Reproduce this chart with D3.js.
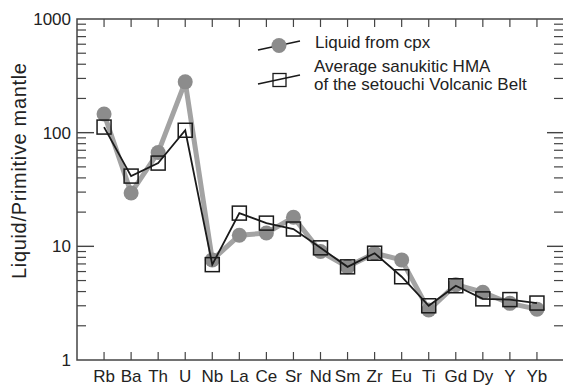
<!DOCTYPE html>
<html>
<head>
<meta charset="utf-8">
<script src="https://cdn.jsdelivr.net/npm/d3@7/dist/d3.min.js"></script>
<style>
html,body{margin:0;padding:0;background:#fff;}
svg{display:block;font-family:"Liberation Sans",Arial,sans-serif;}
</style>
</head>
<body>
<svg id="chart" width="563" height="387"></svg>
<script>
const categories = ["Rb","Ba","Th","U","Nb","La","Ce","Sr","Nd","Sm","Zr","Eu","Ti","Gd","Dy","Y","Yb"];
const liquidFromCpx = [146, 29.5, 67, 280, 7.6, 12.5, 13.1, 18, 9.0, 6.6, 8.7, 7.6, 2.75, 4.6, 3.95, 3.15, 2.8];
const averageHMA = [112, 41.5, 54, 105, 6.9, 19.6, 16, 14.2, 9.7, 6.6, 8.7, 5.4, 3.0, 4.5, 3.45, 3.4, 3.17];
const yMajorTicks = [1, 10, 100, 1000];
const yTickLabels = ["1", "10", "100", "1000"];
const seriesNames = ["Liquid from cpx", "Average sanukitic HMA", "of the setouchi Volcanic Belt"];
const yAxisTitle = "Liquid/Primitive mantle";

const svg = d3.select("#chart");
const L = 77, T = 19, B = 360;
const x = d3.scaleLinear().domain([-1, categories.length]).range([L, 564]);
const R = 565.5;
const y = d3.scaleLog().domain([1, 1000]).range([B, T]);
const axisColor = "#444";

const minor = [];
for (let d = 1; d < 1000; d *= 10) for (let k = 2; k <= 9; k++) minor.push(d * k);

const g = svg.append("g");
g.selectAll(".lmin").data(minor).join("line")
  .attr("x1", L).attr("x2", L + 9).attr("y1", d => y(d)).attr("y2", d => y(d))
  .attr("stroke", axisColor).attr("stroke-width", 1.2);
g.selectAll(".lmaj").data([10, 100]).join("line")
  .attr("x1", L).attr("x2", L + 17).attr("y1", d => y(d)).attr("y2", d => y(d))
  .attr("stroke", axisColor).attr("stroke-width", 1.4);
g.selectAll(".rmin").data(minor).join("line")
  .attr("x1", 564).attr("x2", 554).attr("y1", d => y(d)).attr("y2", d => y(d))
  .attr("stroke", axisColor).attr("stroke-width", 1.2);
g.selectAll(".rmaj").data([10, 100]).join("line")
  .attr("x1", 564).attr("x2", 547).attr("y1", d => y(d)).attr("y2", d => y(d))
  .attr("stroke", axisColor).attr("stroke-width", 1.4);
g.selectAll(".bt").data(categories).join("line")
  .attr("x1", (d, i) => x(i)).attr("x2", (d, i) => x(i)).attr("y1", B).attr("y2", B - 8)
  .attr("stroke", axisColor).attr("stroke-width", 1.2);
g.selectAll(".tt").data(categories).join("line")
  .attr("x1", (d, i) => x(i)).attr("x2", (d, i) => x(i)).attr("y1", T).attr("y2", T + 8)
  .attr("stroke", axisColor).attr("stroke-width", 1.2);
g.append("rect").attr("x", L).attr("y", T).attr("width", R - L).attr("height", B - T)
  .attr("fill", "none").attr("stroke", axisColor).attr("stroke-width", 1.5);

g.selectAll(".yl").data(yMajorTicks).join("text")
  .attr("x", 71).attr("y", d => y(d)).attr("dy", "0.35em")
  .attr("text-anchor", "end").attr("font-size", 17).attr("fill", "#222")
  .text((d, i) => yTickLabels[i]);
g.selectAll(".xl").data(categories).join("text")
  .attr("x", (d, i) => x(i)).attr("y", 382)
  .attr("text-anchor", "middle").attr("font-size", 17).attr("fill", "#222")
  .text(d => d);
g.append("text").attr("transform", "translate(26,171) rotate(-90)")
  .attr("text-anchor", "middle").attr("font-size", 20).attr("fill", "#222")
  .attr("textLength", 216).attr("lengthAdjust", "spacing")
  .text(yAxisTitle);

const line = d3.line().x((d, i) => x(i)).y(d => y(d));
svg.append("path").datum(liquidFromCpx).attr("d", line)
  .attr("fill", "none").attr("stroke", "#a3a3a3").attr("stroke-width", 5).attr("stroke-linejoin", "round");
svg.selectAll(".c").data(liquidFromCpx).join("circle")
  .attr("cx", (d, i) => x(i)).attr("cy", d => y(d)).attr("r", 7.5).attr("fill", "#8c8c8c");
svg.append("path").datum(averageHMA).attr("d", line)
  .attr("fill", "none").attr("stroke", "#1a1a1a").attr("stroke-width", 1.8);
const s = 14;
svg.selectAll(".sq").data(averageHMA).join("rect")
  .attr("x", (d, i) => x(i) - s / 2).attr("y", d => y(d) - s / 2)
  .attr("width", s).attr("height", s)
  .attr("fill", "none").attr("stroke", "#1a1a1a").attr("stroke-width", 1.5);

const lg = svg.append("g");
lg.append("line").attr("x1", 258).attr("y1", 50).attr("x2", 300).attr("y2", 41)
  .attr("stroke", "#1a1a1a").attr("stroke-width", 1.5);
lg.append("circle").attr("cx", 279).attr("cy", 45.5).attr("r", 7.5).attr("fill", "#8c8c8c");
lg.append("line").attr("x1", 258).attr("y1", 84).attr("x2", 300).attr("y2", 75)
  .attr("stroke", "#1a1a1a").attr("stroke-width", 1.5);
lg.append("rect").attr("x", 273).attr("y", 73.5).attr("width", 13).attr("height", 13)
  .attr("fill", "none").attr("stroke", "#1a1a1a").attr("stroke-width", 1.3);
lg.append("text").attr("x", 315).attr("y", 48).attr("font-size", 17).attr("fill", "#222").text(seriesNames[0]);
lg.append("text").attr("x", 314).attr("y", 72).attr("font-size", 17).attr("fill", "#222").text(seriesNames[1]);
lg.append("text").attr("x", 314).attr("y", 90).attr("font-size", 17).attr("fill", "#222").text(seriesNames[2]);
</script>
</body>
</html>
